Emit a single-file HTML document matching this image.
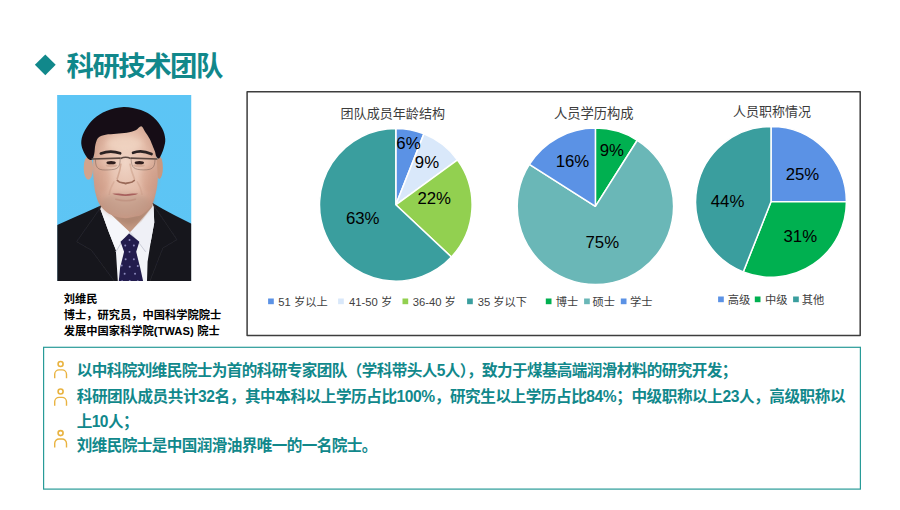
<!DOCTYPE html>
<html lang="zh"><head><meta charset="utf-8"><title>科研技术团队</title>
<style>
html,body{margin:0;padding:0;background:#fff}
body{width:900px;height:510px;overflow:hidden;position:relative;font-family:"Liberation Sans","Noto Sans CJK SC",sans-serif}
svg{position:absolute;left:0;top:0}
svg text{font-family:"Liberation Sans","Noto Sans CJK SC",sans-serif}
.h{position:absolute;white-space:nowrap;color:transparent;line-height:1;font-family:"Liberation Sans","Noto Sans CJK SC",sans-serif;overflow:hidden;pointer-events:none}
</style></head><body>
<svg width="900" height="510" viewBox="0 0 900 510">
<path d="M34.9 64.8L45.3 54.4L55.7 64.8L45.3 75.2Z" fill="#11888b"/>
<text x="66.5" y="76.1" font-size="27.4" font-weight="bold" fill="#11888b" letter-spacing="-1.5">科研技术团队</text>
<clipPath id="pc"><rect x="57.3" y="95" width="133.9" height="186.1"/></clipPath>
<filter id="pb" x="-5%" y="-5%" width="110%" height="110%"><feGaussianBlur stdDeviation="2.4"/></filter>
<filter id="pb2" x="-20%" y="-20%" width="140%" height="140%"><feGaussianBlur stdDeviation="14"/></filter>
<radialGradient id="sk" cx="0.5" cy="0.42" r="0.62"><stop offset="0" stop-color="#f0d5c6"/><stop offset="0.55" stop-color="#e3bba8"/><stop offset="1" stop-color="#c4917d"/></radialGradient>
<linearGradient id="bg" x1="0" y1="0" x2="0" y2="1"><stop offset="0" stop-color="#5cc5f5"/><stop offset="1" stop-color="#5ec5f4"/></linearGradient>
<g clip-path="url(#pc)">
<rect x="57.3" y="95" width="133.9" height="186.1" fill="#5dc5f5"/>
<g transform="translate(57 95) scale(0.19608)" filter="url(#pb)">
<rect x="-20" y="-20" width="730" height="990" fill="url(#bg)"/>
<path d="M-20 672L92 622L156 594L218 566L250 540L470 530L494 554L540 582L602 614L700 664V980H-20Z" fill="#16161c"/>
<path d="M220 578L250 548L470 538L492 562L496 650L478 750L462 850L458 980H312L300 790L262 694Z" fill="#f3f4f8"/>
<path d="M236 480L246 590L372 702L486 570L490 480Z" fill="#c39882"/>
<path d="M250 560C290 640 330 660 372 664C415 660 450 630 486 560L486 520L250 520Z" fill="#a9806c" opacity="0.7" filter="url(#pb2)"/>
<path d="M220 578L246 580L300 632L372 700L330 750L304 800L262 694Z" fill="#f5f6fa"/>
<path d="M492 562L484 574L430 646L372 700L415 750L456 805L478 750L496 650Z" fill="#eff0f6"/>
<path d="M372 700L330 750L300 800" stroke="#c9cbd6" stroke-width="5" fill="none"/>
<path d="M372 700L415 750L452 800" stroke="#c9cbd6" stroke-width="5" fill="none"/>
<path d="M368 706L324 748L342 800L322 880L312 980H446L424 880L404 800L420 748Z" fill="#241f4d"/>
<g fill="#8a86bd"><circle cx="370" cy="740" r="5"/><circle cx="348" cy="768" r="5"/><circle cx="392" cy="768" r="5"/><circle cx="370" cy="800" r="5"/><circle cx="350" cy="838" r="5"/><circle cx="392" cy="838" r="5"/><circle cx="371" cy="876" r="5"/><circle cx="345" cy="912" r="5"/><circle cx="398" cy="912" r="5"/><circle cx="330" cy="870" r="5"/><circle cx="412" cy="872" r="5"/><circle cx="371" cy="948" r="5"/><circle cx="332" cy="950" r="5"/><circle cx="412" cy="950" r="5"/></g>
<ellipse cx="160" cy="372" rx="24" ry="60" fill="#d2a48d"/>
<ellipse cx="522" cy="370" rx="18" ry="58" fill="#c9987f"/>
<path d="M186.0 300.0C184.2 325.0 183.7 356.7 184.0 380.0C184.3 403.3 186.0 420.0 188.0 440.0C190.0 460.0 191.3 480.7 196.0 500.0C200.7 519.3 206.3 539.7 216.0 556.0C225.7 572.3 240.0 587.3 254.0 598.0C268.0 608.7 284.0 615.0 300.0 620.0C316.0 625.0 333.3 628.0 350.0 628.0C366.7 628.0 386.7 622.7 400.0 620.0C413.3 617.3 418.7 618.3 430.0 612.0C441.3 605.7 457.7 593.7 468.0 582.0C478.3 570.3 485.5 558.0 492.0 542.0C498.5 526.0 503.3 504.7 507.0 486.0C510.7 467.3 513.2 447.7 514.0 430.0C514.8 412.3 513.0 401.7 512.0 380.0C511.0 358.3 510.0 326.7 508.0 300.0C506.0 273.3 511.3 245.0 500.0 220.0C488.7 195.0 466.7 163.3 440.0 150.0C413.3 136.7 373.3 138.3 340.0 140.0C306.7 141.7 264.2 145.0 240.0 160.0C215.8 175.0 204.0 206.7 195.0 230.0C186.0 253.3 187.8 275.0 186.0 300.0Z" fill="url(#sk)"/>
<ellipse cx="350" cy="560" rx="130" ry="60" fill="#b79684" opacity="0.45" filter="url(#pb2)"/>
<ellipse cx="230" cy="430" rx="40" ry="70" fill="#c98f78" opacity="0.35" filter="url(#pb2)"/>
<ellipse cx="470" cy="430" rx="40" ry="70" fill="#c98f78" opacity="0.35" filter="url(#pb2)"/>
<ellipse cx="345" cy="250" rx="90" ry="40" fill="#f3d9c6" opacity="0.6" filter="url(#pb2)"/>
<path d="M156.0 322.0C148.3 313.8 137.3 295.8 132.0 281.0C126.7 266.2 122.0 250.3 124.0 233.0C126.0 215.7 133.3 195.7 144.0 177.0C154.7 158.3 170.0 137.0 188.0 121.0C206.0 105.0 226.7 91.0 252.0 81.0C277.3 71.0 310.7 61.7 340.0 61.0C369.3 60.3 402.7 68.3 428.0 77.0C453.3 85.7 474.0 97.7 492.0 113.0C510.0 128.3 526.0 150.3 536.0 169.0C546.0 187.7 550.7 207.7 552.0 225.0C553.3 242.3 549.0 256.8 544.0 273.0C539.0 289.2 528.3 315.5 522.0 322.0C515.7 328.5 509.7 317.3 506.0 312.0C502.3 306.7 502.5 297.3 500.0 290.0C497.5 282.7 495.5 278.8 491.0 268.0C486.5 257.2 479.8 238.2 473.0 225.0C466.2 211.8 457.2 199.8 450.0 189.0C442.8 178.2 438.2 161.5 430.0 160.0C421.8 158.5 413.3 174.5 401.0 180.0C388.7 185.5 372.5 190.0 356.0 193.0C339.5 196.0 320.0 196.3 302.0 198.0C284.0 199.7 263.0 199.8 248.0 203.0C233.0 206.2 220.7 208.8 212.0 217.0C203.3 225.2 199.7 238.2 196.0 252.0C192.3 265.8 193.0 287.0 190.0 300.0C187.0 313.0 183.7 326.3 178.0 330.0C172.3 333.7 163.7 330.2 156.0 322.0Z" fill="#131117"/>
<path d="M224 298C252 287 292 286 322 297" stroke="#2a2021" stroke-width="14" fill="none" stroke-linecap="round"/>
<path d="M388 295C412 285 446 285 482 301" stroke="#2a2021" stroke-width="14" fill="none" stroke-linecap="round"/>
<g fill="none" stroke="#5c4a42" stroke-width="8"><path d="M176 326L324 322"/><path d="M376 322L512 326"/><path d="M324 324C340 316 360 316 376 324"/><path d="M196 328C196 380 215 384 262 382C310 380 322 372 322 326" stroke-width="3" opacity="0.7"/><path d="M378 326C380 372 392 380 440 382C488 382 498 372 500 328" stroke-width="3" opacity="0.7"/></g>
<ellipse cx="276" cy="346" rx="24" ry="9" fill="#2e1f1d"/><ellipse cx="420" cy="346" rx="24" ry="9" fill="#2e1f1d"/>
<ellipse cx="278" cy="360" rx="30" ry="8" fill="#c99c88" opacity="0.6"/><ellipse cx="418" cy="360" rx="30" ry="8" fill="#c99c88" opacity="0.6"/>
<path d="M308 436C320 452 338 446 350 452C362 446 380 452 394 436" stroke="#9a6a58" stroke-width="9" fill="none" stroke-linecap="round"/>
<path d="M326 350C322 390 312 410 306 430" stroke="#c89a84" stroke-width="8" fill="none" opacity="0.7"/>
<path d="M372 350C378 390 388 410 396 430" stroke="#c89a84" stroke-width="8" fill="none" opacity="0.5"/>
<path d="M292 440C276 465 268 490 266 510" stroke="#c4937e" stroke-width="7" fill="none" opacity="0.35"/>
<path d="M408 440C424 465 432 490 434 510" stroke="#c4937e" stroke-width="7" fill="none" opacity="0.35"/>
<path d="M282 504C315 500 335 508 348 506C362 508 385 500 414 504C385 518 315 518 282 504Z" fill="#a8605d"/>
<path d="M300 532C335 542 370 542 400 532" stroke="#bb8b79" stroke-width="8" fill="none" stroke-linecap="round" opacity="0.6"/>
<path d="M220 578L100 748L176 792L300 960" stroke="#25252c" stroke-width="5" fill="none"/>
<path d="M492 562L612 738L540 780L470 960" stroke="#25252c" stroke-width="5" fill="none"/>
</g></g>
<text x="63.7" y="302.6" font-size="11.25" font-weight="bold" fill="#000">刘维民</text>
<text x="63.7" y="318.6" font-size="11.25" font-weight="bold" fill="#000">博士，研究员，中国科学院院士</text>
<text x="63.7" y="335" font-size="11.25" font-weight="bold" fill="#000">发展中国家科学院</text>
<text x="153.7" y="334.6" font-size="11.24" font-weight="bold" fill="#000">(TWAS)</text>
<text x="197.3" y="335" font-size="11.25" font-weight="bold" fill="#000">院士</text>
<rect x="247.1" y="91.8" width="613.1" height="243.8" fill="#fff" stroke="#3d3d3d" stroke-width="1.5" stroke-linejoin="round"/>
<g stroke="#fff" stroke-width="1.5" stroke-linejoin="round"><path d="M395.8 204.8L395.8 128.5A76.3 76.3 0 0 1 423.89 133.86Z" fill="#5b92e5"/><path d="M395.8 204.8L423.89 133.86A76.3 76.3 0 0 1 457.53 159.95Z" fill="#d9e8fa"/><path d="M395.8 204.8L457.53 159.95A76.3 76.3 0 0 1 451.42 257.03Z" fill="#92d050"/><path d="M395.8 204.8L451.42 257.03A76.3 76.3 0 1 1 395.8 128.5Z" fill="#3a9e9e"/></g>
<g stroke="#fff" stroke-width="1.5" stroke-linejoin="round"><path d="M595.4 206.3L595.4 128.1A78.2 78.2 0 0 1 637.3 140.27Z" fill="#00b050"/><path d="M595.4 206.3L637.3 140.27A78.2 78.2 0 1 1 529.37 164.4Z" fill="#6ab7b7"/><path d="M595.4 206.3L529.37 164.4A78.2 78.2 0 0 1 595.4 128.1Z" fill="#5b92e5"/></g>
<g stroke="#fff" stroke-width="1.5" stroke-linejoin="round"><path d="M771 201.8L771 126.4A75.4 75.4 0 0 1 846.4 201.8Z" fill="#5b92e5"/><path d="M771 201.8L846.4 201.8A75.4 75.4 0 0 1 743.24 271.91Z" fill="#00b050"/><path d="M771 201.8L743.24 271.91A75.4 75.4 0 0 1 771 126.4Z" fill="#3a9e9e"/></g>
<text x="340.6" y="118" font-size="13.05" fill="#3c3c3c">团队成员年龄结构</text>
<text x="553.9" y="118.3" font-size="13.3" fill="#3c3c3c">人员学历构成</text>
<text x="733" y="116" font-size="13" fill="#3c3c3c">人员职称情况</text>
<text x="396.36" y="149.21" font-size="16.8" fill="#000">6%</text>
<text x="414.86" y="168.21" font-size="16.8" fill="#000">9%</text>
<text x="417.39" y="203.61" font-size="16.8" fill="#000">22%</text>
<text x="345.89" y="224.01" font-size="16.8" fill="#000">63%</text>
<text x="599.66" y="155.81" font-size="16.8" fill="#000">9%</text>
<text x="585.49" y="248.31" font-size="16.8" fill="#000">75%</text>
<text x="555.69" y="167.01" font-size="16.8" fill="#000">16%</text>
<text x="785.69" y="179.61" font-size="16.8" fill="#000">25%</text>
<text x="783.49" y="242.41" font-size="16.8" fill="#000">31%</text>
<text x="710.79" y="206.71" font-size="16.8" fill="#000">44%</text>
<rect x="268.1" y="298.5" width="5.7" height="5.7" fill="#5b92e5"/>
<text x="278.3" y="305.6" font-size="11.24" fill="#404040">51</text>
<text x="293.9" y="305.8" font-size="11.25" fill="#404040">岁以上</text>
<rect x="338.1" y="298.5" width="5.7" height="5.7" fill="#d9e8fa"/>
<text x="349" y="305.6" font-size="11.24" fill="#404040">41-50</text>
<text x="380.9" y="305.8" font-size="11.25" fill="#404040">岁</text>
<rect x="402.5" y="298.5" width="5.7" height="5.7" fill="#92d050"/>
<text x="412.7" y="305.6" font-size="11.24" fill="#404040">36-40</text>
<text x="444.6" y="305.8" font-size="11.25" fill="#404040">岁</text>
<rect x="467.1" y="298.5" width="5.7" height="5.7" fill="#3a9e9e"/>
<text x="477.7" y="305.6" font-size="11.24" fill="#404040">35</text>
<text x="493.3" y="305.8" font-size="11.25" fill="#404040">岁以下</text>
<rect x="545.8" y="298.5" width="5.7" height="5.7" fill="#00b050"/>
<text x="555.7" y="305.8" font-size="11.25" fill="#404040">博士</text>
<rect x="584.1" y="298.5" width="5.7" height="5.7" fill="#6ab7b7"/>
<text x="592.5" y="305.8" font-size="11.25" fill="#404040">硕士</text>
<rect x="620.8" y="298.5" width="5.7" height="5.7" fill="#5b92e5"/>
<text x="630" y="305.8" font-size="11.25" fill="#404040">学士</text>
<rect x="718.1" y="296.5" width="5.7" height="5.7" fill="#5b92e5"/>
<text x="727.7" y="303.8" font-size="11.25" fill="#404040">高级</text>
<rect x="754.8" y="296.5" width="5.7" height="5.7" fill="#00b050"/>
<text x="765" y="303.8" font-size="11.25" fill="#404040">中级</text>
<rect x="793.1" y="296.5" width="5.7" height="5.7" fill="#3a9e9e"/>
<text x="801.7" y="303.8" font-size="11.25" fill="#404040">其他</text>
<rect x="43.6" y="347.3" width="816.8" height="141.8" fill="#fff" stroke="#289b98" stroke-width="1.2"/>
<text x="76.8" y="375.5" font-size="15.6" font-weight="bold" fill="#11888b" letter-spacing="-0.6">以中科院刘维民院士为首的科研专家团队（学科带头人5人），致力于煤基高端润滑材料的研究开发；</text>
<text x="76.8" y="401.6" font-size="15.6" font-weight="bold" fill="#11888b" letter-spacing="-0.43">科研团队成员共计32名，其中本科以上学历占比100%，研究生以上学历占比84%；中级职称以上23人，高级职称以</text>
<text x="76.8" y="426.9" font-size="15.6" font-weight="bold" fill="#11888b" letter-spacing="-0.6">上10人；</text>
<text x="76.8" y="451.2" font-size="15.6" font-weight="bold" fill="#11888b" letter-spacing="-0.6">刘维民院士是中国润滑油界唯一的一名院士。</text>
<g fill="none" stroke="#e9b340" stroke-width="1.4"><circle cx="60.6" cy="364" r="2.5" stroke-width="1.6"/><path d="M54.7 378.3V374.3A4.4 4.4 0 0 1 59.1 369.9H62.1A4.4 4.4 0 0 1 66.5 374.3V378.3"/></g>
<g fill="none" stroke="#e9b340" stroke-width="1.4"><circle cx="60.6" cy="391.5" r="2.5" stroke-width="1.6"/><path d="M54.7 405.8V401.8A4.4 4.4 0 0 1 59.1 397.4H62.1A4.4 4.4 0 0 1 66.5 401.8V405.8"/></g>
<g fill="none" stroke="#e9b340" stroke-width="1.4"><circle cx="60.6" cy="433.1" r="2.5" stroke-width="1.6"/><path d="M54.7 447.4V443.4A4.4 4.4 0 0 1 59.1 439H62.1A4.4 4.4 0 0 1 66.5 443.4V447.4"/></g>
</svg>
<div class="h" style="left:66.5px;top:51.99px;font-size:27.4px;font-weight:bold;">科研技术团队</div>
<div class="h" style="left:63.7px;top:292.7px;font-size:11.25px;font-weight:bold;">刘维民</div>
<div class="h" style="left:63.7px;top:308.7px;font-size:11.25px;font-weight:bold;">博士，研究员，中国科学院院士</div>
<div class="h" style="left:63.7px;top:325.1px;font-size:11.25px;font-weight:bold;">发展中国家科学院</div>
<div class="h" style="left:153.7px;top:324.7px;font-size:11.25px;font-weight:bold;">(TWAS)</div>
<div class="h" style="left:197.3px;top:325.1px;font-size:11.25px;font-weight:bold;">院士</div>
<div class="h" style="left:340.6px;top:106.52px;font-size:13.05px;">团队成员年龄结构</div>
<div class="h" style="left:553.9px;top:106.6px;font-size:13.3px;">人员学历构成</div>
<div class="h" style="left:733px;top:104.56px;font-size:13px;">人员职称情况</div>
<div class="h" style="left:396.36px;top:134.43px;font-size:16.8px;">6%</div>
<div class="h" style="left:414.86px;top:153.43px;font-size:16.8px;">9%</div>
<div class="h" style="left:417.39px;top:188.83px;font-size:16.8px;">22%</div>
<div class="h" style="left:345.89px;top:209.23px;font-size:16.8px;">63%</div>
<div class="h" style="left:599.66px;top:141.03px;font-size:16.8px;">9%</div>
<div class="h" style="left:585.49px;top:233.53px;font-size:16.8px;">75%</div>
<div class="h" style="left:555.69px;top:152.23px;font-size:16.8px;">16%</div>
<div class="h" style="left:785.69px;top:164.83px;font-size:16.8px;">25%</div>
<div class="h" style="left:783.49px;top:227.63px;font-size:16.8px;">31%</div>
<div class="h" style="left:710.79px;top:191.93px;font-size:16.8px;">44%</div>
<div class="h" style="left:278.3px;top:295.7px;font-size:11.25px;">51</div>
<div class="h" style="left:293.9px;top:295.9px;font-size:11.25px;">岁以上</div>
<div class="h" style="left:349px;top:295.7px;font-size:11.25px;">41-50</div>
<div class="h" style="left:380.9px;top:295.9px;font-size:11.25px;">岁</div>
<div class="h" style="left:412.7px;top:295.7px;font-size:11.25px;">36-40</div>
<div class="h" style="left:444.6px;top:295.9px;font-size:11.25px;">岁</div>
<div class="h" style="left:477.7px;top:295.7px;font-size:11.25px;">35</div>
<div class="h" style="left:493.3px;top:295.9px;font-size:11.25px;">岁以下</div>
<div class="h" style="left:555.7px;top:295.9px;font-size:11.25px;">博士</div>
<div class="h" style="left:592.5px;top:295.9px;font-size:11.25px;">硕士</div>
<div class="h" style="left:630px;top:295.9px;font-size:11.25px;">学士</div>
<div class="h" style="left:727.7px;top:293.9px;font-size:11.25px;">高级</div>
<div class="h" style="left:765px;top:293.9px;font-size:11.25px;">中级</div>
<div class="h" style="left:801.7px;top:293.9px;font-size:11.25px;">其他</div>
<div class="h" style="left:76.8px;top:361.77px;font-size:15.6px;font-weight:bold;">以中科院刘维民院士为首的科研专家团队（学科带头人5人），致力于煤基高端润滑材料的研究开发；</div>
<div class="h" style="left:76.8px;top:387.87px;font-size:15.6px;font-weight:bold;">科研团队成员共计32名，其中本科以上学历占比100%，研究生以上学历占比84%；中级职称以上23人，高级职称以</div>
<div class="h" style="left:76.8px;top:413.17px;font-size:15.6px;font-weight:bold;">上10人；</div>
<div class="h" style="left:76.8px;top:437.47px;font-size:15.6px;font-weight:bold;">刘维民院士是中国润滑油界唯一的一名院士。</div>
</body></html>
